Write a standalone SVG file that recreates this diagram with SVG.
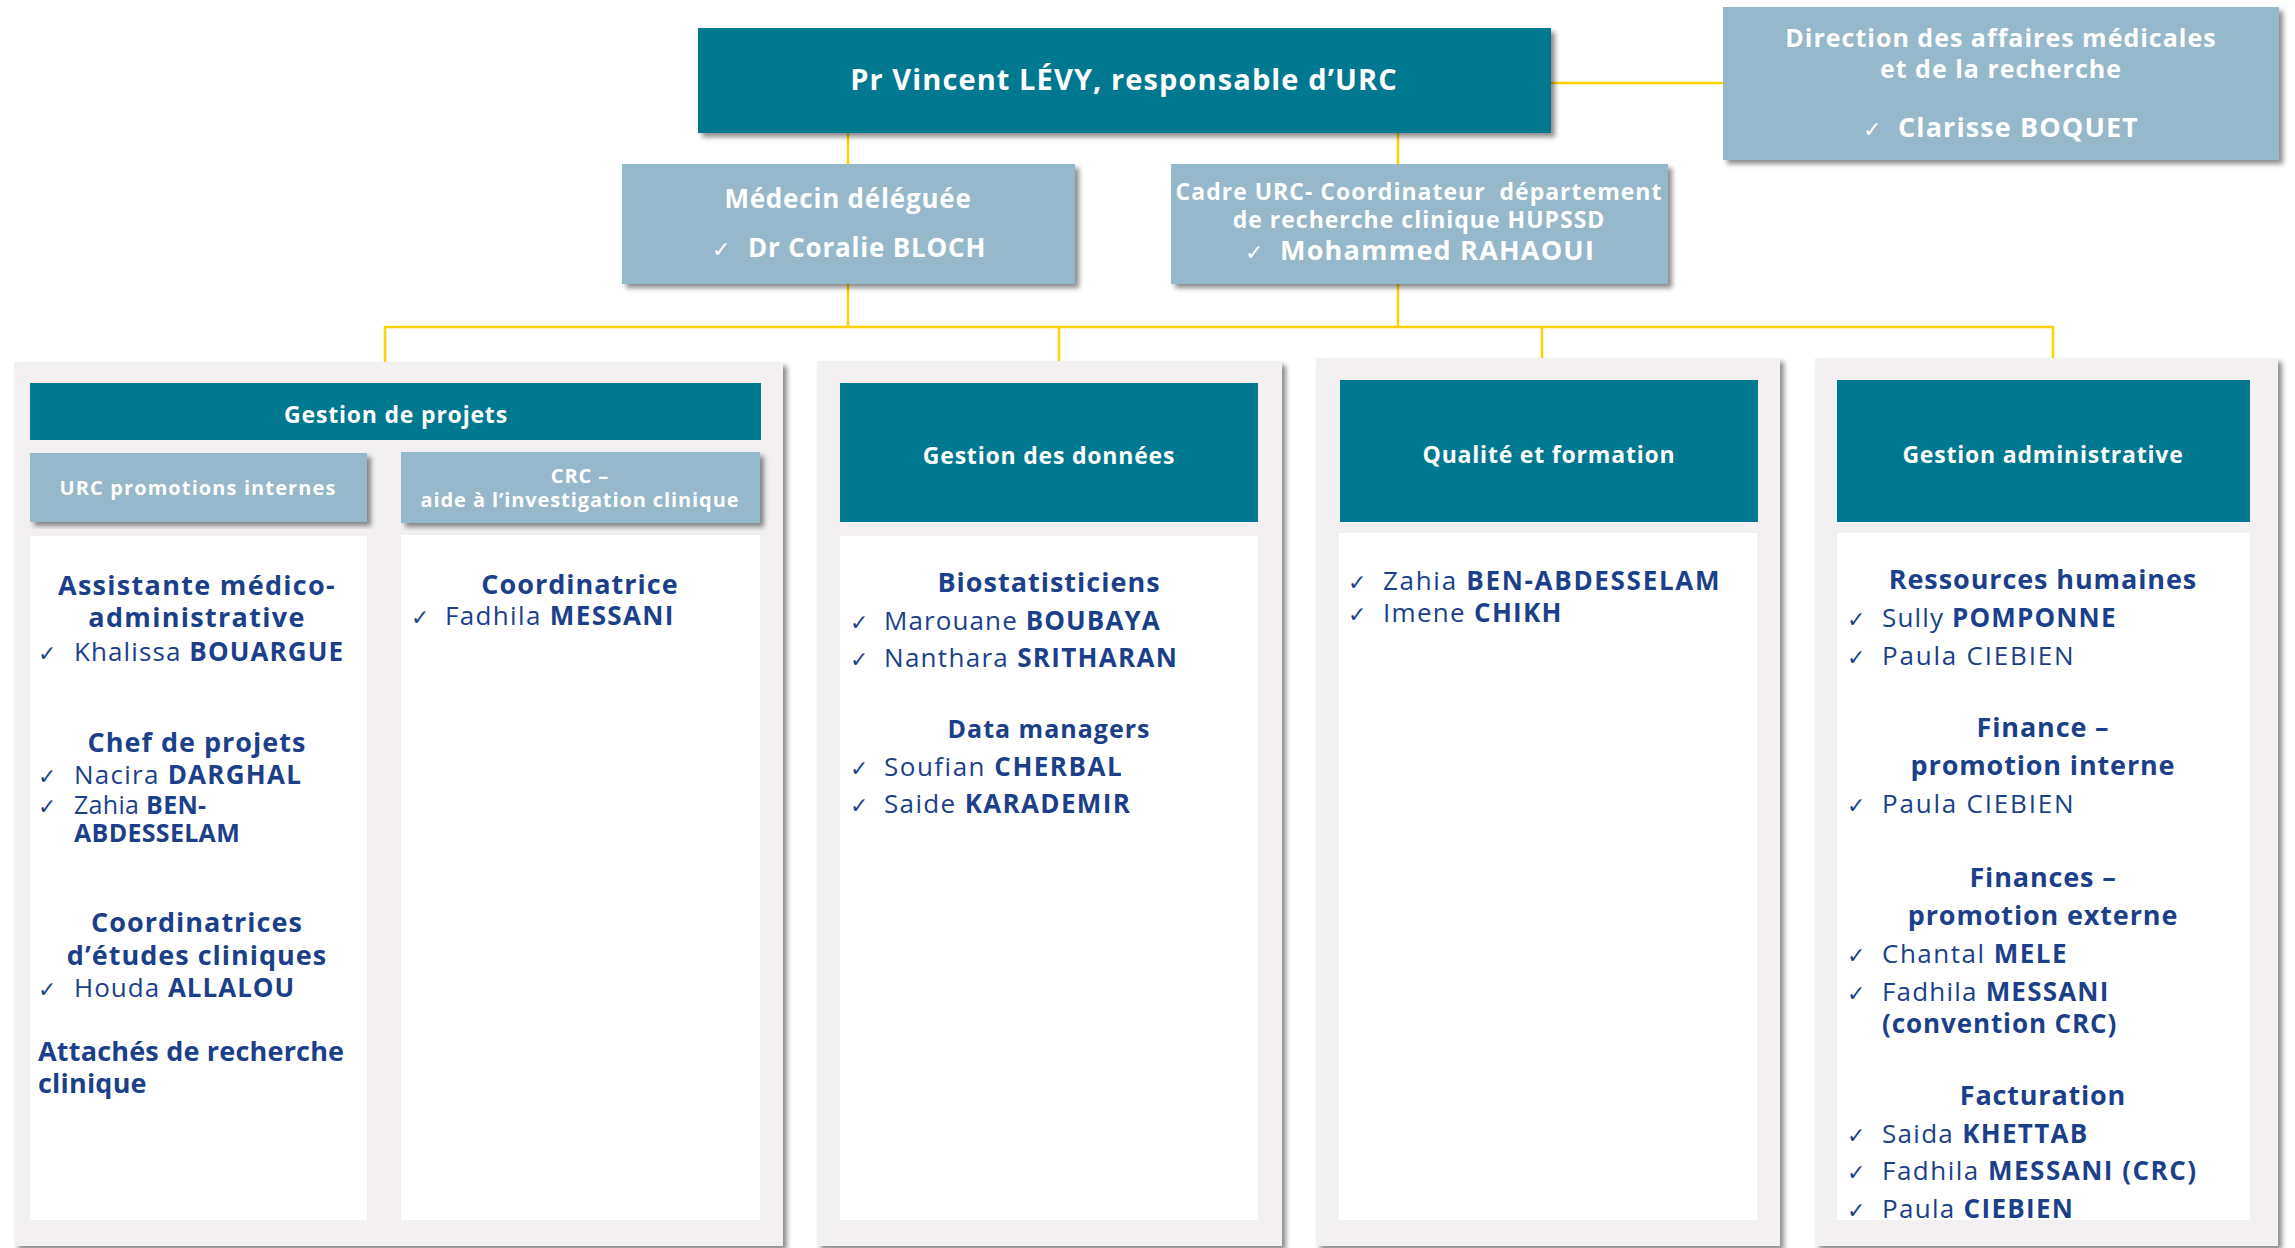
<svg xmlns="http://www.w3.org/2000/svg" width="2295" height="1248" viewBox="0 0 2295 1248">
<defs>
<filter id="sh" x="-5%" y="-5%" width="115%" height="115%">
<feDropShadow dx="4" dy="4" stdDeviation="2.5" flood-color="#000" flood-opacity="0.45"/>
</filter>
<clipPath id="clip4"><rect x="1837" y="533" width="413" height="687"/></clipPath>
</defs>
<style>
.teal{fill:#007890}
.lb{fill:#95b8ca}
.pan{fill:#f2f0f1}
.wh{fill:#ffffff}
.conn{stroke:#ffd200;stroke-width:2.5;fill:none}
text{font-family:"Open Sans","DejaVu Sans",sans-serif}
.tw{fill:#ffffff;font-weight:700}
.c{text-anchor:middle}
.hd{fill:#ffffff;font-weight:700;font-size:23px;text-anchor:middle;letter-spacing:0.8px}
.sec{fill:#1c3f8a;font-weight:700;font-size:27px;letter-spacing:1px}
.nm{fill:#1c3f8a;font-size:26px;letter-spacing:1.3px}
.b{font-weight:700}
.ck{font-family:"DejaVu Sans",sans-serif;font-weight:400;font-size:22px;letter-spacing:0}
</style>
<rect width="2295" height="1248" fill="#ffffff"/>

<g id="connectors">
<path class="conn" d="M1551 83 H1723"/>
<path class="conn" d="M848 133 V164"/>
<path class="conn" d="M1398 133 V164"/>
<path class="conn" d="M848 284 V327"/>
<path class="conn" d="M1398 284 V327"/>
<path class="conn" d="M385 327 H2053"/>
<path class="conn" d="M385 326 V362"/>
<path class="conn" d="M1059 326 V361"/>
<path class="conn" d="M1542 326 V358"/>
<path class="conn" d="M2053 326 V358"/>
</g>

<g id="main">
<rect class="teal" x="698" y="28" width="853" height="105" filter="url(#sh)"/>
<text class="tw c" x="1124" y="90" style="font-size:29px;letter-spacing:1.1px">Pr Vincent LÉVY, responsable d’URC</text>
</g>

<g id="direction">
<rect class="lb" x="1723" y="7" width="556" height="153" filter="url(#sh)"/>
<text class="tw c" style="font-size:25px;letter-spacing:1px"><tspan x="2001" y="47">Direction des affaires médicales</tspan><tspan x="2001" y="78">et de la recherche</tspan></text>
<text class="tw" y="137" style="font-size:27px;letter-spacing:1.1px"><tspan class="ck" x="1863">✓</tspan><tspan x="1898">Clarisse BOQUET</tspan></text>
</g>

<g id="medecin">
<rect class="lb" x="622" y="164" width="453" height="120" filter="url(#sh)"/>
<text class="tw c" x="848" y="208" style="font-size:26px;letter-spacing:0.8px">Médecin déléguée</text>
<text class="tw" y="257" style="font-size:26px;letter-spacing:0.8px"><tspan class="ck" x="712">✓</tspan><tspan x="748">Dr Coralie BLOCH</tspan></text>
</g>

<g id="cadre">
<rect class="lb" x="1171" y="164" width="497" height="120" filter="url(#sh)"/>
<text class="tw c" style="font-size:23px;letter-spacing:1px" xml:space="preserve"><tspan x="1419" y="200">Cadre URC- Coordinateur  département</tspan><tspan x="1419" y="228">de recherche clinique HUPSSD</tspan></text>
<text class="tw" y="260" style="font-size:27px;letter-spacing:1.2px"><tspan class="ck" x="1245">✓</tspan><tspan x="1280">Mohammed RAHAOUI</tspan></text>
</g>

<g id="gestion-projets">
<rect class="pan" x="14" y="362" width="769" height="884" filter="url(#sh)"/>
<rect class="teal" x="30" y="383" width="731" height="57"/>
<text class="hd" x="396" y="423">Gestion de projets</text>
<rect class="lb" x="30" y="453" width="337" height="69" filter="url(#sh)"/>
<text class="tw c" x="198" y="495" style="font-size:20px;letter-spacing:1.1px">URC promotions internes</text>
<rect class="lb" x="401" y="452" width="359" height="71" filter="url(#sh)"/>
<text class="tw c" style="font-size:20px;letter-spacing:0.9px"><tspan x="580" y="483">CRC –</tspan><tspan x="580" y="507">aide à l’investigation clinique</tspan></text>
<rect class="wh" x="30" y="536" width="337" height="684"/>
<rect class="wh" x="401" y="535" width="359" height="685"/>

<text class="sec c" style="letter-spacing:1.3px"><tspan x="197" y="595">Assistante médico-</tspan><tspan x="197" y="627">administrative</tspan></text>
<text class="nm" y="661" style="letter-spacing:1.1px"><tspan class="ck" x="38">✓</tspan><tspan x="74">Khalissa </tspan><tspan class="b">BOUARGUE</tspan></text>

<text class="sec c" x="197" y="752">Chef de projets</text>
<text class="nm" y="784" style="letter-spacing:1.25px"><tspan class="ck" x="38">✓</tspan><tspan x="74">Nacira </tspan><tspan class="b">DARGHAL</tspan></text>
<text class="nm" style="font-size:25px;letter-spacing:0.3px"><tspan class="ck" x="38" y="814">✓</tspan><tspan x="74" y="814">Zahia </tspan><tspan class="b">BEN-</tspan><tspan class="b" x="74" y="842">ABDESSELAM</tspan></text>

<text class="sec c"><tspan x="197" y="932">Coordinatrices</tspan><tspan x="197" y="965">d’études cliniques</tspan></text>
<text class="nm" y="997" style="letter-spacing:1px"><tspan class="ck" x="38">✓</tspan><tspan x="74">Houda </tspan><tspan class="b">ALLALOU</tspan></text>

<text class="sec" style="letter-spacing:0.2px"><tspan x="38" y="1061">Attachés de recherche</tspan><tspan x="38" y="1093">clinique</tspan></text>

<text class="sec c" x="580" y="594">Coordinatrice</text>
<text class="nm" y="625" style="letter-spacing:1.35px"><tspan class="ck" x="411">✓</tspan><tspan x="445">Fadhila </tspan><tspan class="b">MESSANI</tspan></text>
</g>

<g id="gestion-donnees">
<rect class="pan" x="817" y="361" width="465" height="885" filter="url(#sh)"/>
<rect class="teal" x="840" y="383" width="418" height="139"/>
<text class="hd" x="1049" y="464">Gestion des données</text>
<rect class="wh" x="840" y="536" width="418" height="684"/>
<text class="sec c" x="1049" y="592">Biostatisticiens</text>
<text class="nm" y="630" style="letter-spacing:1.1px"><tspan class="ck" x="850">✓</tspan><tspan x="884">Marouane </tspan><tspan class="b">BOUBAYA</tspan></text>
<text class="nm" y="667"><tspan class="ck" x="850">✓</tspan><tspan x="884">Nanthara </tspan><tspan class="b">SRITHARAN</tspan></text>
<text class="sec c" x="1049" y="738" style="font-size:25px">Data managers</text>
<text class="nm" y="776" style="letter-spacing:1.5px"><tspan class="ck" x="850">✓</tspan><tspan x="884">Soufian </tspan><tspan class="b">CHERBAL</tspan></text>
<text class="nm" y="813" style="letter-spacing:1.35px"><tspan class="ck" x="850">✓</tspan><tspan x="884">Saide </tspan><tspan class="b">KARADEMIR</tspan></text>
</g>

<g id="qualite">
<rect class="pan" x="1316" y="358" width="464" height="888" filter="url(#sh)"/>
<rect class="teal" x="1340" y="380" width="418" height="142"/>
<text class="hd" x="1549" y="463">Qualité et formation</text>
<rect class="wh" x="1339" y="533" width="418" height="687"/>
<text class="nm" y="590" style="letter-spacing:1.7px"><tspan class="ck" x="1348">✓</tspan><tspan x="1383">Zahia </tspan><tspan class="b">BEN-ABDESSELAM</tspan></text>
<text class="nm" y="622"><tspan class="ck" x="1348">✓</tspan><tspan x="1383">Imene </tspan><tspan class="b">CHIKH</tspan></text>
</g>

<g id="gestion-administrative">
<rect class="pan" x="1815" y="358" width="463" height="888" filter="url(#sh)"/>
<rect class="teal" x="1837" y="380" width="413" height="142"/>
<text class="hd" x="2043" y="463">Gestion administrative</text>
<rect class="wh" x="1837" y="533" width="413" height="687"/>
<g clip-path="url(#clip4)">
<text class="sec c" x="2043" y="589" style="letter-spacing:0.9px">Ressources humaines</text>
<text class="nm" y="627" style="letter-spacing:1.15px"><tspan class="ck" x="1847">✓</tspan><tspan x="1882">Sully </tspan><tspan class="b">POMPONNE</tspan></text>
<text class="nm" y="665" style="letter-spacing:1.8px"><tspan class="ck" x="1847">✓</tspan><tspan x="1882">Paula CIEBIEN</tspan></text>
<text class="sec c" style="letter-spacing:0.85px"><tspan x="2043" y="737">Finance –</tspan><tspan x="2043" y="775">promotion interne</tspan></text>
<text class="nm" y="813" style="letter-spacing:1.8px"><tspan class="ck" x="1847">✓</tspan><tspan x="1882">Paula CIEBIEN</tspan></text>
<text class="sec c" style="letter-spacing:0.85px"><tspan x="2043" y="887">Finances –</tspan><tspan x="2043" y="925">promotion externe</tspan></text>
<text class="nm" y="963" style="letter-spacing:1.5px"><tspan class="ck" x="1847">✓</tspan><tspan x="1882">Chantal </tspan><tspan class="b">MELE</tspan></text>
<text class="nm" style="letter-spacing:1.2px"><tspan class="ck" x="1847" y="1001">✓</tspan><tspan x="1882" y="1001">Fadhila </tspan><tspan class="b">MESSANI</tspan><tspan class="b" x="1882" y="1033" style="letter-spacing:0.9px">(convention CRC)</tspan></text>
<text class="sec c" x="2043" y="1105" style="letter-spacing:0.8px">Facturation</text>
<text class="nm" y="1143"><tspan class="ck" x="1847">✓</tspan><tspan x="1882">Saida </tspan><tspan class="b">KHETTAB</tspan></text>
<text class="nm" y="1180" style="letter-spacing:1.5px"><tspan class="ck" x="1847">✓</tspan><tspan x="1882">Fadhila </tspan><tspan class="b">MESSANI (CRC)</tspan></text>
<text class="nm" y="1218"><tspan class="ck" x="1847">✓</tspan><tspan x="1882">Paula </tspan><tspan class="b">CIEBIEN</tspan></text>
</g>
</g>
</svg>
